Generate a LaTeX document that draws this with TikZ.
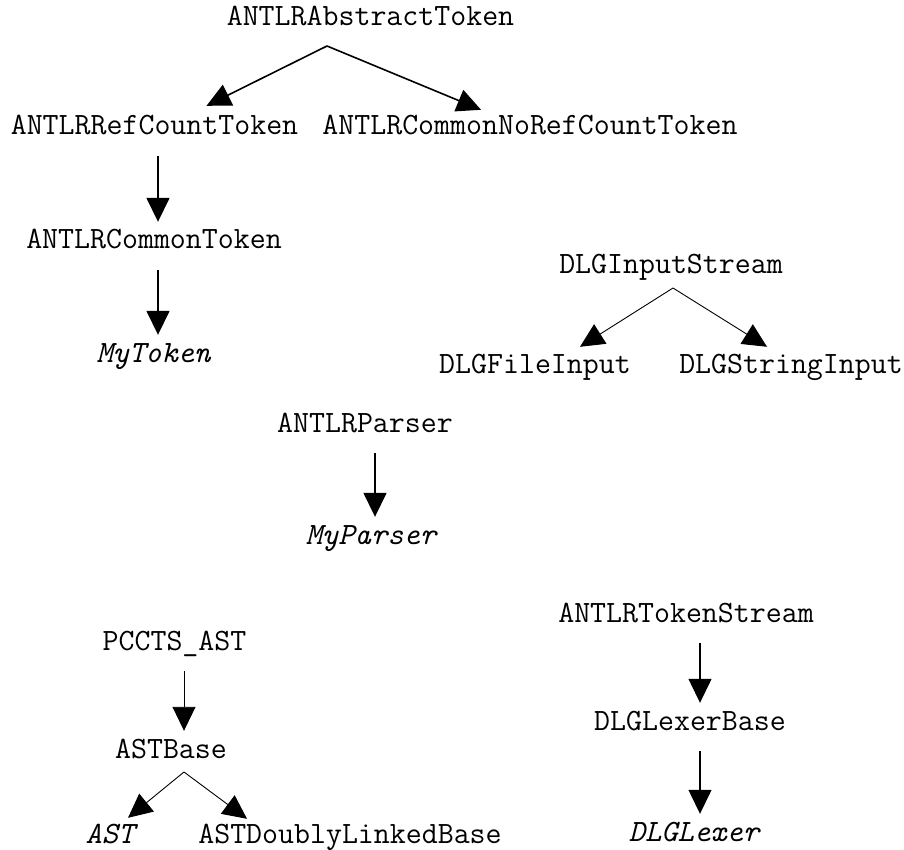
\documentclass[tikz,border=0pt]{standalone}
\usetikzlibrary{arrows.meta}

\tikzset{
  cls/.style={font=\fontsize{31}{37}\ttfamily\selectfont, inner sep=0pt,
              text height=19pt, text depth=6pt, anchor=base},
  abscls/.style={cls, font=\fontsize{31}{37}\ttfamily\itshape\selectfont},
  inh/.style={-{Triangle[length=24pt, width=23pt]}, line width=1.6pt},
  thininh/.style={inh, line width=0.9pt},
  down/.style={shorten <=15pt, shorten >=8pt}
}

\begin{document}
\begin{tikzpicture}[x=1pt, y=-1pt]
  \useasboundingbox (0,0) rectangle (904,850);

  % token classes
  \node[cls] (at) at (370.5,26) {ANTLRAbstractToken};
  \node[cls] (rc) at (154.5,135) {ANTLRRefCountToken};
  \node[cls] (nr) at (530,135) {ANTLRCommonNoRefCountToken};
  \node[cls] (ct) at (154,249) {ANTLRCommonToken};
  \node[abscls] (mt) at (153.5,362) {MyToken};
  \coordinate (at-fork) at (327,46);

  % input streams
  \node[cls] (dis) at (671,273) {DLGInputStream};
  \node[cls] (fi) at (535,373) {DLGFileInput};
  \node[cls] (si) at (791,373) {DLGStringInput};
  \coordinate (dis-fork) at (673,288);

  % parser
  \node[cls] (ap) at (365,432) {ANTLRParser};
  \node[abscls] (mp) at (371,544) {MyParser};

  % trees
  \node[cls] (pa) at (174.5,650) {PCCTS\_AST};
  \node[cls] (ab) at (171,758) {ASTBase};
  \node[abscls] (ast) at (110,843) {AST};
  \node[cls] (adl) at (350,843) {ASTDoublyLinkedBase};
  \coordinate (ab-fork) at (184,772);

  % lexer
  \node[cls] (ts) at (686,622) {ANTLRTokenStream};
  \node[cls] (lb) at (690,730) {DLGLexerBase};
  \node[abscls] (lx) at (694,841) {DLGLexer};

  \path[inh]
    (at-fork) edge ([xshift=52pt,yshift=10pt]rc.north)
              edge ([xshift=-49pt,yshift=6pt]nr.north);
  \path[inh, down]
    ([xshift=3.5pt]rc.south) edge ([xshift=3.5pt]rc.south |- ct.north)
    ([xshift=4pt]ct.south) edge ([xshift=4pt]ct.south |- mt.north)
    ([xshift=10pt]ap.south) edge ([xshift=10pt]ap.south |- mp.north);
  \path[thininh]
    (dis-fork) edge ([xshift=45pt,yshift=7pt]fi.north)
               edge ([xshift=-24pt,yshift=7pt]si.north);
  \path[thininh, down]
    ([xshift=9.5pt]pa.south) edge ([xshift=9.5pt]pa.south |- ab.north);
  \path[thininh]
    (ab-fork) edge ([xshift=18pt,yshift=6pt]ast.north)
              edge ([xshift=-103pt,yshift=5pt]adl.north);
  \path[inh, down, line width=1.3pt]
    ([xshift=14pt]ts.south) edge ([xshift=14pt]ts.south |- lb.north)
    ([xshift=10pt]lb.south) edge ([xshift=10pt]lb.south |- lx.north);
\end{tikzpicture}
\end{document}
